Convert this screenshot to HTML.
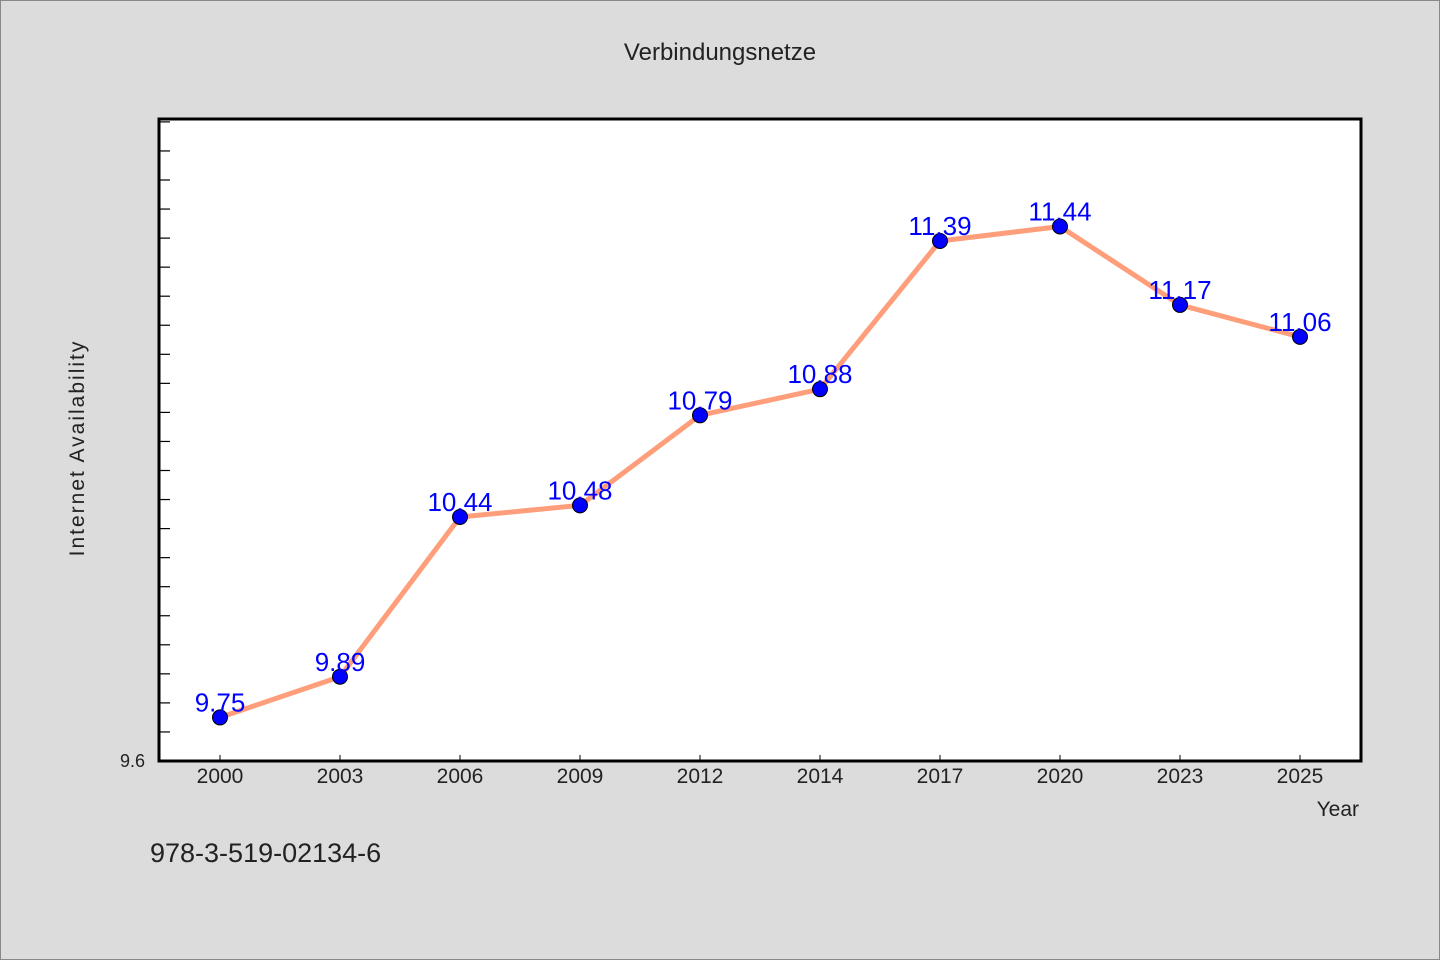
<!DOCTYPE html>
<html><head><meta charset="utf-8"><style>
body{margin:0;background:#dcdcdc;}
svg{display:block;font-family:"WenQuanYi Zen Hei","Liberation Sans",sans-serif;}
</style></head><body>
<svg width="1440" height="960">
<rect x="0.5" y="0.5" width="1439" height="959" fill="#dcdcdc" stroke="#888"/>
<text x="720" y="60" font-size="24" text-anchor="middle" fill="#222">Verbindungsnetze</text>
<rect x="159" y="119" width="1202" height="642" fill="#fff"/>
<g id="ticks"></g>
<polyline id="line" fill="none" stroke="#ff9e7a" stroke-width="5" stroke-linejoin="round"/>
<g id="points"></g>
<rect x="159" y="119" width="1202" height="642" fill="none" stroke="#000" stroke-width="3"/>
<text x="120" y="767" font-size="18" fill="#222">9.6</text>
<text transform="translate(84,448) rotate(-90)" font-size="21" text-anchor="middle" fill="#222" letter-spacing="2">Internet Availability</text>
<text x="1359" y="816" font-size="21" text-anchor="end" fill="#222">Year</text>
<text x="150" y="862" font-size="27" fill="#222">978-3-519-02134-6</text>
</svg>
<script>
const categories=["2000","2003","2006","2009","2012","2014","2017","2020","2023","2025"];
const values=[9.75,9.89,10.44,10.48,10.79,10.88,11.39,11.44,11.17,11.06];
const yMin=9.6, yMax=11.81;
const NS="http://www.w3.org/2000/svg";
const x0=159,x1=1361,y0=761,y1=119;
function xs(i){return 220+i*120;}
function ys(v){return y0-(v-yMin)/(yMax-yMin)*(y0-y1);}
const tg=document.getElementById('ticks');
for(let v=yMin+0.1;v<yMax;v+=0.1){
 const l=document.createElementNS(NS,'line');
 l.setAttribute('x1',x0);l.setAttribute('x2',x0+11);l.setAttribute('y1',ys(v));l.setAttribute('y2',ys(v));
 l.setAttribute('stroke','#000');l.setAttribute('stroke-width','1.2');
 
 
 tg.appendChild(l);
}
categories.forEach((c,i)=>{
 const l=document.createElementNS(NS,'line');
 l.setAttribute('x1',xs(i));l.setAttribute('x2',xs(i));l.setAttribute('y1',y0);l.setAttribute('y2',y0-6);
 l.setAttribute('stroke','#000');
 
 
 tg.appendChild(l);
 const t=document.createElementNS(NS,'text');
 t.setAttribute('x',xs(i));t.setAttribute('y',783);t.setAttribute('text-anchor','middle');t.setAttribute('font-size','21');t.setAttribute('fill','#222');
 t.textContent=c;
 
 
 tg.appendChild(t);
});
document.getElementById('line').setAttribute('points',values.map((v,i)=>xs(i)+','+ys(v)).join(' '));
const pg=document.getElementById('points');
values.forEach((v,i)=>{
 const c=document.createElementNS(NS,'circle');
 c.setAttribute('cx',xs(i));c.setAttribute('cy',ys(v));c.setAttribute('r',7.5);
 c.setAttribute('fill','#0000ff');c.setAttribute('stroke','#000');c.setAttribute('stroke-width','1');
 
 
 pg.appendChild(c);
 const t=document.createElementNS(NS,'text');
 t.setAttribute('x',xs(i));t.setAttribute('y',ys(v)-6);t.setAttribute('text-anchor','middle');t.setAttribute('font-size','26');t.setAttribute('fill','#0000ff');
 t.textContent=v.toFixed(2);
 
 
 pg.appendChild(t);
});
</script>
</body></html>
